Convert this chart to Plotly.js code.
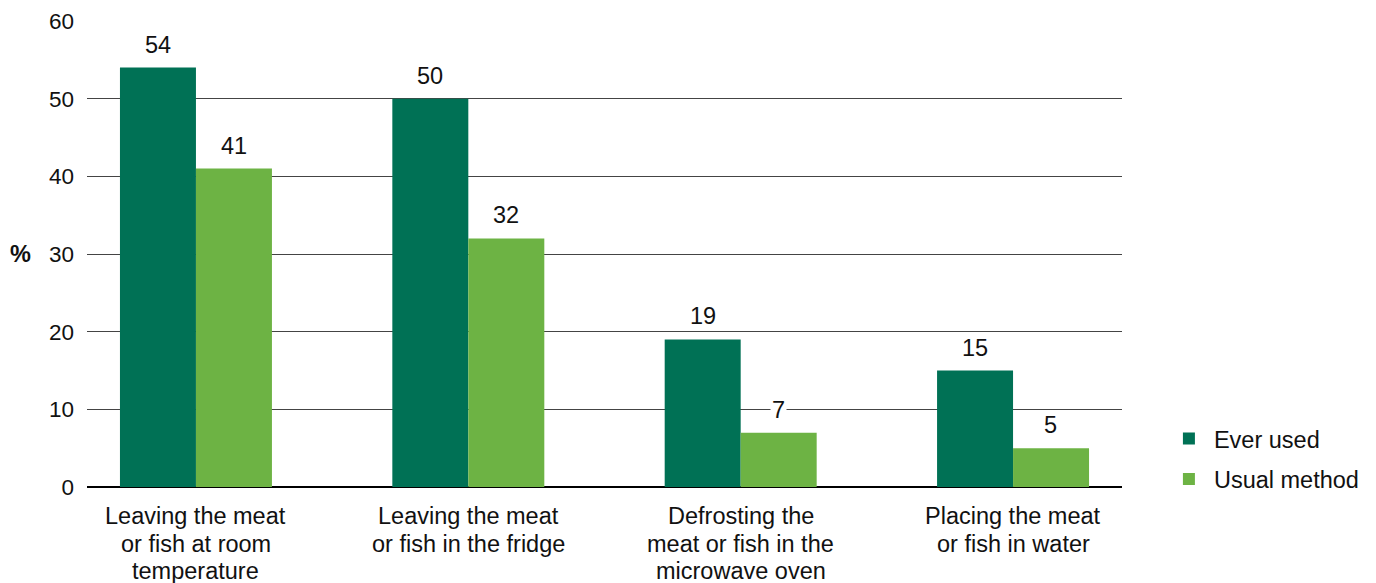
<!DOCTYPE html>
<html>
<head>
<meta charset="utf-8">
<script src="https://cdn.plot.ly/plotly-3.0.1.min.js"></script>
<style>html,body{margin:0;padding:0;background:#fff;}#chart{width:1376px;height:583px;}</style>
</head>
<body>
<div id="chart"></div>
<script>
const categories = [
  "Leaving the meat<br>or fish at room<br>temperature",
  "Leaving the meat<br>or fish in the fridge",
  "Defrosting the<br>meat or fish in the<br>microwave oven",
  "Placing the meat<br>or fish in water"
];
const everUsed = [54, 50, 19, 15];
const usualMethod = [41, 32, 7, 5];
const seriesNames = ["Ever used", "Usual method"];
const colors = ["#007155", "#6db344"];
const yTicks = [0, 10, 20, 30, 40, 50, 60];

const FONT = "Liberation Sans, Arial, sans-serif";
const FS = 23.5;
const series = [everUsed, usualMethod];
const offsets = [-0.139, 0.139];

const traces = series.map((vals, i) => ({
  type: "bar",
  name: seriesNames[i],
  x: categories.map((c, k) => k),
  y: vals,
  marker: {color: colors[i]},
  legendgroup: "g" + i,
  hoverinfo: "y"
}));

const annotations = [];
series.forEach((vals, i) => {
  vals.forEach((v, k) => {
    annotations.push({
      x: k + offsets[i], y: v, xref: "x", yref: "y",
      text: String(v), showarrow: false, yanchor: "bottom",
      yshift: 8, bgcolor: "#ffffff", borderpad: 1,
      font: {family: FONT, size: FS, color: "#111"}
    });
  });
});
// category labels, one line at a time
categories.forEach((c, k) => {
  c.split("<br>").forEach((line, j) => {
    annotations.push({
      x: k, y: 0, xref: "x", yref: "y", text: line, showarrow: false,
      xanchor: "center", yanchor: "middle", yshift: -29 - j * 27.5,
      font: {family: FONT, size: FS, color: "#111"}
    });
  });
});
annotations.push({
  x: -0.064, xref: "paper", y: 30, yref: "y", text: "<b>%</b>",
  showarrow: false, xanchor: "center",
  font: {family: FONT, size: FS, color: "#111"}
});

const layout = {
  width: 1376, height: 583,
  margin: {l: 87, r: 254, t: 21, b: 96},
  paper_bgcolor: "#fff", plot_bgcolor: "#fff",
  barmode: "group", bargap: 0.442, bargroupgap: 0,
  font: {family: FONT, size: FS, color: "#111"},
  xaxis: {
    tickmode: "array", tickvals: [0, 1, 2, 3], showticklabels: false,
    range: [-0.4, 3.4], showgrid: false, zeroline: false,
    ticks: "", showline: false, fixedrange: true
  },
  yaxis: {
    range: [0, 60], tickmode: "array", tickvals: yTicks,
    showgrid: true, gridcolor: "#444", gridwidth: 1,
    zeroline: true, zerolinecolor: "#000", zerolinewidth: 2,
    ticks: "", ticklabelstandoff: 12, fixedrange: true,
    tickfont: {family: FONT, size: 22.5, color: "#111"}
  },
  legend: {
    x: 1.0405, y: 0.151, xanchor: "left", yanchor: "top",
    traceorder: "grouped", tracegroupgap: 7, itemwidth: 40,
    font: {family: FONT, size: FS, color: "#111"}
  },
  annotations: annotations,
  showlegend: true
};

Plotly.newPlot("chart", traces, layout, {displayModeBar: false, staticPlot: true});
</script>
</body>
</html>
